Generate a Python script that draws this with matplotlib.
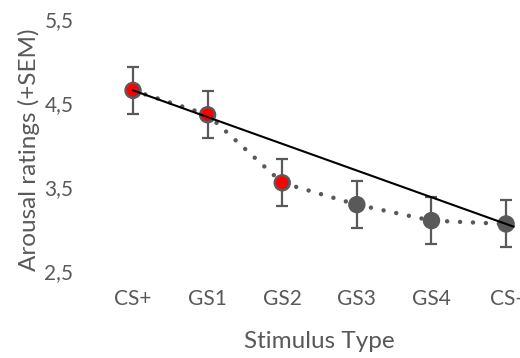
import numpy as np
import matplotlib.pyplot as plt

plt.rcParams['font.family'] = ['Lato', 'DejaVu Sans']

stimuli = ['CS+', 'GS1', 'GS2', 'GS3', 'GS4', 'CS-']
arousal = [4.65, 4.36, 3.55, 3.29, 3.10, 3.06]
sem = [0.28, 0.28, 0.28, 0.28, 0.28, 0.28]
red_points = [True, True, True, False, False, False]
yticks = [2.5, 3.5, 4.5, 5.5]

grey = '#595959'

fig = plt.figure(figsize=(5.2, 3.58), dpi=100)
ax = fig.add_axes([0.184, 0.243, 0.861, 0.704])

x = np.arange(len(stimuli))
y = np.array(arousal)

ax.errorbar(x, y, yerr=sem, fmt='none', ecolor=grey, elinewidth=1.6,
            capsize=4.5, capthick=1.6, zorder=2)
ax.plot(x, y, color=grey, linestyle=(0, (0.01, 2.9)), linewidth=3.2,
        dash_capstyle='round', zorder=3)

cols = ['#ff0000' if r else grey for r in red_points]
ax.scatter(x, y, s=115, c=cols, edgecolors=grey, linewidths=1.8, zorder=4)

# straight reference line between the first and last stimulus
ax.plot([x[0], x[-1] + 0.1], [y[0], y[0] + (y[-1] - y[0]) * (x[-1] + 0.1) / x[-1]],
        color='black', linewidth=1.5, zorder=5)

ax.set_xlim(-0.5, 5.5)
ax.set_ylim(2.5, 5.5)
ax.set_xticks(x)
ax.set_xticklabels(stimuli)
ax.set_yticks(yticks)
ax.set_yticklabels([f'{t:.1f}'.replace('.', ',') for t in yticks])
ax.tick_params(length=0, labelsize=15, labelcolor=grey)
ax.tick_params(axis='y', pad=16)
ax.tick_params(axis='x', pad=13)
for s in ax.spines.values():
    s.set_visible(False)

ax.set_xlabel('Stimulus Type', fontsize=17.5, color=grey, labelpad=16)
ax.set_ylabel('Arousal ratings (+SEM)', fontsize=17.5, color=grey)
ax.yaxis.set_label_coords(-0.124, 0.48)

fig.savefig('out.png', dpi=100)
